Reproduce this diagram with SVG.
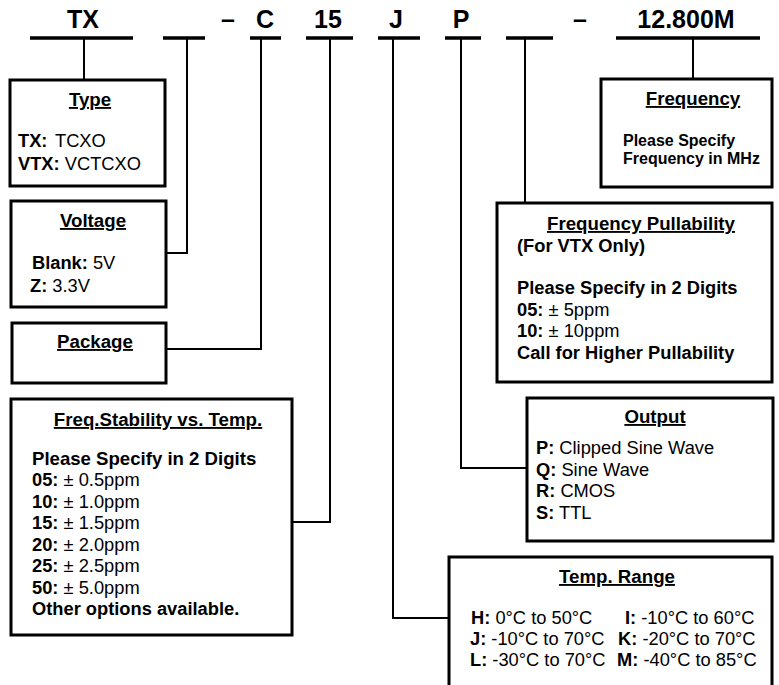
<svg xmlns="http://www.w3.org/2000/svg" width="779" height="685" viewBox="0 0 779 685">
<style>
text{font-family:"Liberation Sans",Arial,sans-serif;font-size:18.3px;fill:#000}
.b{font-weight:bold}
.code{font-weight:bold;font-size:25px;text-anchor:middle}
.t{font-weight:bold;font-size:18.7px;text-anchor:middle;text-decoration:underline}
.box{fill:#fff;stroke:#000;stroke-width:3}
.seg{stroke:#000;stroke-width:3.5;fill:none}
.con{stroke:#000;stroke-width:2;fill:none}
.sm{font-size:16px;font-weight:bold}
</style>
<rect width="779" height="685" fill="#fff"/>
<g id="code">
<text class="code" x="83" y="28">TX</text>
<text class="code" x="228" y="28">–</text>
<text class="code" x="265" y="28">C</text>
<text class="code" x="328" y="28">15</text>
<text class="code" x="396" y="28">J</text>
<text class="code" x="461" y="28">P</text>
<text class="code" x="580" y="28">–</text>
<text class="code" x="686" y="28">12.800M</text>
<path class="seg" d="M30 38H133M163 38H205M250 38H281M306 38H353M378 38H420M445 38H481M506 38H553M616 38H760"/>
</g>
<g id="connectors">
<path class="con" d="M84 38V80"/>
<path class="con" d="M187 38V253H166"/>
<path class="con" d="M261 38V349H166"/>
<path class="con" d="M330 38V522H292"/>
<path class="con" d="M393 38V618H449"/>
<path class="con" d="M461 38V468H527"/>
<path class="con" d="M525 38V203"/>
<path class="con" d="M693 38V79"/>
</g>
<g id="type">
<rect class="box" x="10" y="80" width="155" height="106"/>
<text class="t" x="90" y="106">Type</text>
<text x="18" y="147"><tspan class="b">TX:</tspan><tspan x="55">TCXO</tspan></text>
<text x="18" y="170"><tspan class="b">VTX:</tspan> VCTCXO</text>
</g>
<g id="voltage">
<rect class="box" x="11" y="201" width="155" height="106"/>
<text class="t" x="93" y="227">Voltage</text>
<text x="32" y="269"><tspan class="b">Blank:</tspan> 5V</text>
<text x="30" y="292"><tspan class="b">Z:</tspan> 3.3V</text>
</g>
<g id="package">
<rect class="box" x="12" y="323" width="154" height="60"/>
<text class="t" x="95" y="348">Package</text>
</g>
<g id="stability">
<rect class="box" x="11" y="399" width="281" height="236"/>
<text class="t" x="158" y="426">Freq.Stability vs. Temp.</text>
<text class="b" x="32" y="465" style="font-size:18.6px">Please Specify in 2 Digits</text>
<text x="32" y="486"><tspan class="b">05:</tspan> ± 0.5ppm</text>
<text x="32" y="507.5"><tspan class="b">10:</tspan> ± 1.0ppm</text>
<text x="32" y="529"><tspan class="b">15:</tspan> ± 1.5ppm</text>
<text x="32" y="550.5"><tspan class="b">20:</tspan> ± 2.0ppm</text>
<text x="32" y="572"><tspan class="b">25:</tspan> ± 2.5ppm</text>
<text x="32" y="593.5"><tspan class="b">50:</tspan> ± 5.0ppm</text>
<text class="b" x="32" y="615">Other options available.</text>
</g>
<g id="frequency">
<rect class="box" x="601" y="79" width="171" height="108"/>
<text class="t" x="693" y="105">Frequency</text>
<text class="sm" x="623" y="146">Please Specify</text>
<text class="sm" x="623" y="164">Frequency in MHz</text>
</g>
<g id="pullability">
<rect class="box" x="497" y="203" width="275" height="179"/>
<text class="t" x="641" y="230">Frequency Pullability</text>
<text class="b" x="517" y="252">(For VTX Only)</text>
<text class="b" x="517" y="294">Please Specify in 2 Digits</text>
<text x="517" y="315.5"><tspan class="b">05:</tspan> ± 5ppm</text>
<text x="517" y="337"><tspan class="b">10:</tspan> ± 10ppm</text>
<text class="b" x="517" y="358.5">Call for Higher Pullability</text>
</g>
<g id="output">
<rect class="box" x="527" y="398" width="246" height="143"/>
<text class="t" x="655" y="423">Output</text>
<text x="536" y="454"><tspan class="b">P:</tspan> Clipped Sine Wave</text>
<text x="536" y="475.5"><tspan class="b">Q:</tspan> Sine Wave</text>
<text x="536" y="497"><tspan class="b">R:</tspan> CMOS</text>
<text x="536" y="518.5"><tspan class="b">S:</tspan> TTL</text>
</g>
<g id="temp">
<rect class="box" x="449" y="557" width="323" height="145"/>
<text class="t" x="617" y="583">Temp. Range</text>
<text x="471" y="624"><tspan class="b">H:</tspan> 0°C to 50°C</text>
<text x="625" y="624"><tspan class="b">I:</tspan> -10°C to 60°C</text>
<text x="470" y="645"><tspan class="b">J:</tspan> -10°C to 70°C</text>
<text x="618" y="645"><tspan class="b">K:</tspan> -20°C to 70°C</text>
<text x="470" y="666"><tspan class="b">L:</tspan> -30°C to 70°C</text>
<text x="617" y="666"><tspan class="b">M:</tspan> -40°C to 85°C</text>
</g>
</svg>
